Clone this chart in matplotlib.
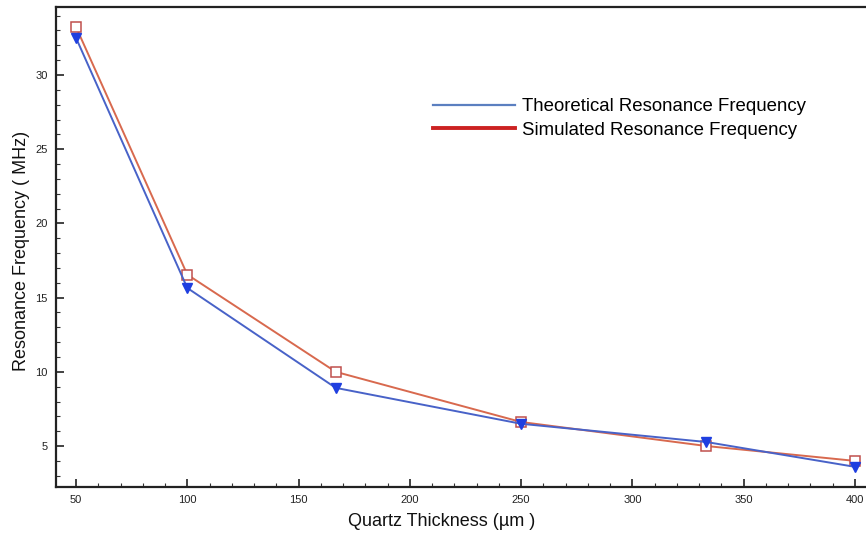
import matplotlib
matplotlib.use("Agg")
import matplotlib.pyplot as plt
from matplotlib.lines import Line2D
from matplotlib.ticker import MultipleLocator

thickness = [50, 100, 166.7, 250, 333.3, 400]
theoretical = [32.5, 15.65, 8.92, 6.5, 5.27, 3.6]
simulated = [33.23, 16.55, 10.0, 6.62, 5.0, 4.0]
x_ticks = [50, 100, 150, 200, 250, 300, 350, 400]
y_ticks = [5, 10, 15, 20, 25, 30]

plt.rcParams['font.family'] = ['Liberation Sans', 'DejaVu Sans']

fig = plt.figure(figsize=(8.66, 5.33), dpi=100)
ax = fig.add_axes([56/866, 46/533, 1 - 56/866, (487-7)/533])

ax.plot(thickness, simulated, color='#d8694e', lw=1.4, marker='s', ms=6.5,
        mfc='white', mec='#c0504d', mew=1.1, zorder=3)
ax.plot(thickness, theoretical, color='#4862c8', lw=1.4, marker='v', ms=7,
        mfc='#1f3fe0', mec='#1f3fe0', zorder=4)

ax.set_xlim(41, 405)
ax.set_ylim(2.24, 34.58)
ax.set_xticks(x_ticks)
ax.set_yticks(y_ticks)
ax.xaxis.set_minor_locator(MultipleLocator(10))
ax.yaxis.set_minor_locator(MultipleLocator(1))
ax.tick_params(which='major', direction='in', length=6, width=1.2, labelsize=8, pad=6, colors='#222222')
ax.tick_params(which='minor', direction='in', length=3, width=0.8, colors='#333333')
ax.spines['right'].set_visible(False)
for s in ['left', 'bottom', 'top']:
    ax.spines[s].set_linewidth(1.6)
    ax.spines[s].set_color('#222222')

ax.set_xlabel('Quartz Thickness (\u00b5m )', fontsize=13, color='#111111')
ax.xaxis.set_label_coords((442-56)/810, (487-513)/480)
ax.set_ylabel('Resonance Frequency ( MHz)', fontsize=13, color='#111111')
ax.yaxis.set_label_coords((30-56)/810, (487-251)/480)

handles = [Line2D([], [], color='#5b7fc0', lw=1.6),
           Line2D([], [], color='#cc2222', lw=2.8)]
labels = ['Theoretical Resonance Frequency', 'Simulated Resonance Frequency']
fig.legend(handles, labels, loc='upper left', bbox_to_anchor=(433/866, (533-98)/533),
           frameon=False, fontsize=13.4, handlelength=4.4, handletextpad=0.4,
           borderpad=0, borderaxespad=0, labelspacing=0.36)

fig.savefig('out.png', dpi=100)
